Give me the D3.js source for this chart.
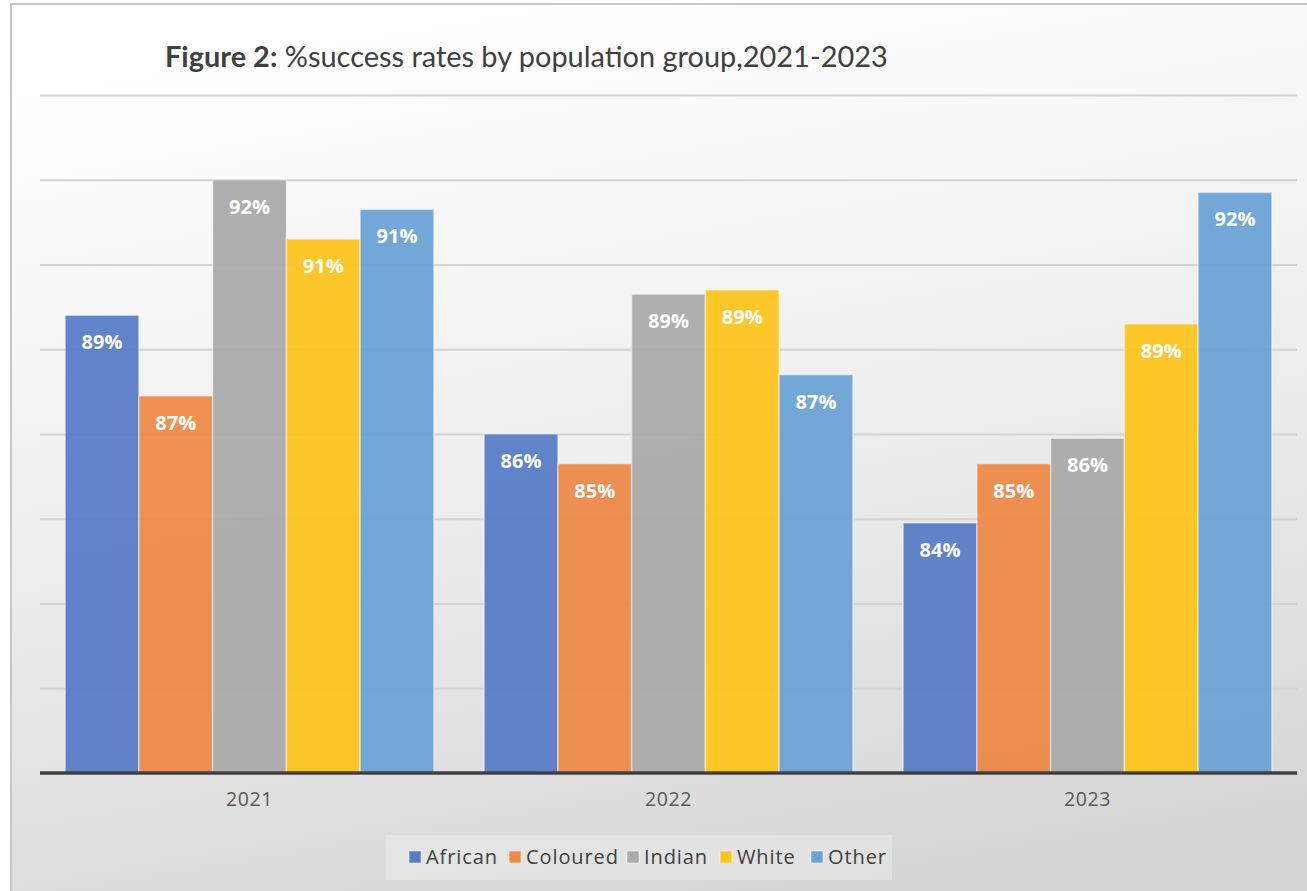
<!DOCTYPE html>
<html>
<head>
<meta charset="utf-8">
<script src="https://cdn.jsdelivr.net/npm/d3@7"></script>
<style>
  html, body { margin: 0; padding: 0; background: #ffffff; }
  svg { display: block; }
</style>
</head>
<body>
<svg id="chart" width="1307" height="891"></svg>
<script>
// Success rates by population group
const years = ["2021", "2022", "2023"];
const groups = ["African", "Coloured", "Indian", "White", "Other"];
const african  = [0.888, 0.860, 0.839];
const coloured = [0.869, 0.853, 0.853];
const indian   = [0.920, 0.893, 0.859];
const white    = [0.906, 0.894, 0.886];
const other    = [0.913, 0.874, 0.917];
const seriesValues = [african, coloured, indian, white, other];
const colours = ["#577cc6", "#ec8a48", "#aaaaaa", "#fdc41e", "#6aa2d6"];
const gridTicks = [0.78, 0.80, 0.82, 0.84, 0.86, 0.88, 0.90, 0.92, 0.94];

const svg = d3.select("#chart");
const W = 1307, H = 891;

// background panel with soft vertical gradient
const defs = svg.append("defs");
const grad = defs.append("linearGradient").attr("id", "bg")
  .attr("x1", "0.35").attr("y1", "0").attr("x2", "0.6").attr("y2", "1");
grad.append("stop").attr("offset", "0").attr("stop-color", "#ffffff");
grad.append("stop").attr("offset", "0.55").attr("stop-color", "#ececec");
grad.append("stop").attr("offset", "1").attr("stop-color", "#d6d6d6");

svg.append("rect").attr("x", 11).attr("y", 4).attr("width", W).attr("height", H)
  .attr("fill", "url(#bg)").attr("stroke", "#c6c6c6").attr("stroke-width", 2);

const plot = { left: 40, right: 1297, top: 95, bottom: 773 };

const x0 = d3.scaleBand().domain(years).range([plot.left, plot.right]).paddingInner(0.12).paddingOuter(0.06);
const x1 = d3.scaleBand().domain(groups).range([0, x0.bandwidth()]);
const y = d3.scaleLinear().domain([0.78, 0.94]).range([plot.bottom, plot.top]);

// horizontal gridlines
svg.append("g")
  .attr("transform", `translate(${plot.left},0)`)
  .call(d3.axisLeft(y).tickValues(gridTicks).tickSize(-(plot.right - plot.left)).tickFormat(""))
  .call(g => g.select(".domain").remove())
  .call(g => g.selectAll(".tick line").attr("stroke", "#d3d3d3").attr("stroke-width", 2));

// bars
const fmt = d3.format(".0%");
const yearGroups = svg.append("g").selectAll("g")
  .data(years)
  .join("g")
  .attr("transform", d => `translate(${x0(d)},0)`);

yearGroups.selectAll("rect")
  .data((yr, i) => groups.map((g, k) => ({ group: g, value: seriesValues[k][i], colour: colours[k] })))
  .join("rect")
  .attr("x", d => x1(d.group))
  .attr("y", d => y(d.value))
  .attr("width", x1.bandwidth())
  .attr("height", d => y(0.78) - y(d.value))
  .attr("fill", d => d.colour)
  .attr("fill-opacity", 0.95)
  .attr("stroke", "#ffffff")
  .attr("stroke-opacity", 0.45)
  .attr("stroke-width", 1.5);

yearGroups.selectAll("text")
  .data((yr, i) => groups.map((g, k) => ({ group: g, value: seriesValues[k][i] })))
  .join("text")
  .attr("x", d => x1(d.group) + x1.bandwidth() / 2)
  .attr("y", d => y(d.value) + 34)
  .attr("text-anchor", "middle")
  .attr("font-family", "'Open Sans', sans-serif")
  .attr("font-weight", 700)
  .attr("font-size", 20)
  .attr("fill", "#ffffff")
  .text(d => fmt(d.value));

// category axis
const xAxis = svg.append("g")
  .attr("transform", `translate(0,${plot.bottom})`)
  .call(d3.axisBottom(x0).tickSize(0).tickPadding(19));
xAxis.select(".domain").remove();
xAxis.selectAll("text")
  .attr("font-family", "'Open Sans', sans-serif")
  .attr("font-size", 19.5)
  .attr("letter-spacing", 0.6)
  .attr("fill", "#595959");
svg.append("line")
  .attr("x1", plot.left).attr("x2", plot.right)
  .attr("y1", plot.bottom).attr("y2", plot.bottom)
  .attr("stroke", "#404040").attr("stroke-width", 3.5);

// title
const title = svg.append("text")
  .attr("x", 165).attr("y", 67)
  .attr("font-family", "Lato, 'Open Sans', sans-serif")
  .attr("font-size", 27)
  .attr("fill", "#404040");
title.append("tspan").attr("font-weight", 700).text("Figure 2:");
title.append("tspan").text(" %success rates by population group,2021-2023");
const tw = title.node().getComputedTextLength();
title.attr("font-size", 27 * 723 / tw);

// legend
const legend = svg.append("g");
legend.append("rect")
  .attr("x", 386).attr("y", 835).attr("width", 506).attr("height", 45)
  .attr("fill", "#ffffff").attr("fill-opacity", 0.25);
const legendX = [409, 509, 627, 720, 811];
const items = legend.selectAll("g.item")
  .data(groups)
  .join("g")
  .attr("class", "item")
  .attr("transform", (d, i) => `translate(${legendX[i]},851)`);
items.append("rect")
  .attr("width", 12).attr("height", 12)
  .attr("fill", (d, i) => colours[i])
  .attr("stroke", "#ffffff").attr("stroke-opacity", 0.5);
items.append("text")
  .attr("x", 17).attr("y", 13)
  .attr("font-family", "'Open Sans', sans-serif")
  .attr("font-size", 20)
  .attr("letter-spacing", 0.9)
  .attr("fill", "#404040")
  .text(d => d);
</script>
</body>
</html>
